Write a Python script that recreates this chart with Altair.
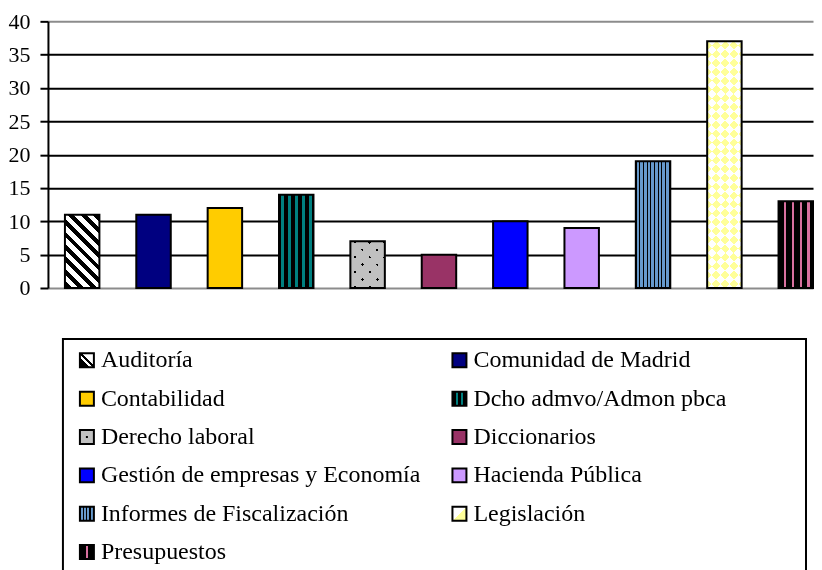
import math
import altair as alt
import pandas as pd

# ---------------- data ----------------
categories = [
    "Auditoría", "Comunidad de Madrid", "Contabilidad", "Dcho admvo/Admon pbca",
    "Derecho laboral", "Diccionarios", "Gestión de empresas y Economía",
    "Hacienda Pública", "Informes de Fiscalización", "Legislación", "Presupuestos",
]
values = [11, 11, 12, 14, 7, 5, 10, 9, 19, 37, 13]
y_ticks = [0, 5, 10, 15, 20, 25, 30, 35, 40]
legend_col = [i % 2 for i in range(len(categories))]
legend_row = [i // 2 for i in range(len(categories))]

df = pd.DataFrame({"cat": categories, "value": values, "col": legend_col, "row": legend_row})

# ---------------- layout / style ----------------
FONT = "Liberation Serif"
PLOT_W, PLOT_H = 766, 267
Y_MAX = 40
N = len(categories)
P_IN, P_OUT, ALIGN = 0.517, 0.119, 1.0
STEP = PLOT_W / (N - P_IN + 2 * P_OUT)
BW = STEP * (1 - P_IN)

LEG_W, LEG_H = 762, 236
LEG_LEFT = 15
LEG_RIGHT = 759
LEG_COLS = [39, 412]
LEG_ROW0, LEG_ROWSTEP = 22.4, 38.4

BLACK, WHITE = "#000000", "#ffffff"


def stripe_stops(L, period, start, width, on, off):
    segs = []
    k = math.floor(-start / period) - 1
    while True:
        a = start + k * period
        if a >= L:
            break
        b = a + width
        a2, b2 = max(a, 0.0), min(b, L)
        if b2 > a2:
            segs.append((a2, b2))
        k += 1
    stops = []
    cur = 0.0
    for a, b in segs:
        if a > cur:
            stops += [(cur, off), (a, off)]
        stops += [(a, on), (b, on)]
        cur = b
    if cur < L:
        stops += [(cur, off), (L, off)]
    return [{"offset": round(s / L, 5), "color": c} for s, c in stops]


def g_vert(W, period, start, width, on, off):
    return {"gradient": "linear", "x1": 0, "y1": 0, "x2": 1, "y2": 0,
            "stops": stripe_stops(W, period, start, width, on, off)}


def g_diag(W, H, kind, period, start, width, on, off):
    r = W / H
    dy = (r + 1) / (r * r + 1)
    dx = r * dy
    L = (W + H) / math.sqrt(2)
    if kind == "\\":
        g = {"x1": 0, "y1": 1, "x2": round(dx, 5), "y2": round(1 - dy, 5)}
    else:
        g = {"x1": 0, "y1": 0, "x2": round(dx, 5), "y2": round(dy, 5)}
    g["gradient"] = "linear"
    g["stops"] = stripe_stops(L, period, start, width, on, off)
    return g


def g_manual(x1, y1, x2, y2, stops):
    return {"gradient": "linear", "x1": x1, "y1": y1, "x2": x2, "y2": y2,
            "stops": [{"offset": o, "color": c} for o, c in stops]}


def bar_height(v):
    return v / Y_MAX * PLOT_H


X = alt.X("cat:N", sort=categories, axis=None,
          scale=alt.Scale(paddingInner=P_IN, paddingOuter=P_OUT, align=ALIGN))
Y = alt.Y("value:Q", title=None,
          scale=alt.Scale(domain=[0, Y_MAX], nice=False, zero=True),
          axis=alt.Axis(values=y_ticks, labelFont=FONT, labelFontSize=22, labelColor="black",
                        labelPadding=10, tickSize=8, tickWidth=2, tickColor="black",
                        domainColor="black", domainWidth=2, grid=True, gridWidth=2,
                        gridOpacity=1, labelFlush=False, labelOverlap=False,
                        gridColor={"condition": {"test": "datum.value === 0 || datum.value === 40",
                                                 "value": "#8c8c8c"},
                                   "value": "black"}))

base = alt.Chart(df)


def bar(cat, **kw):
    return base.transform_filter(alt.datum.cat == cat).mark_bar(**kw).encode(x=X, y=Y)


OUT = dict(stroke="black", strokeWidth=2)
layers = []
hv = dict(zip(categories, values))

# Auditoría: white with black "\" stripes
layers.append(bar("Auditoría", fill=g_diag(BW, bar_height(hv["Auditoría"]), "\\", 8.8, 1.0, 4.2, BLACK, WHITE), **OUT))
layers.append(bar("Comunidad de Madrid", fill="#000080", **OUT))
layers.append(bar("Contabilidad", fill="#FFCC00", **OUT))
layers.append(bar("Dcho admvo/Admon pbca", fill=g_vert(BW, 6.9, 2.2, 3.2, "#008080", BLACK), **OUT))
# Derecho laboral: gray with staggered black dots
hd = bar_height(hv["Derecho laboral"])
layers.append(bar("Derecho laboral", fill=g_diag(BW, hd, "/", 10.5, 3.0, 2.0, BLACK, WHITE)))
layers.append(bar("Derecho laboral", fill=g_diag(BW, hd, "\\", 10.5, 3.0, 2.0, BLACK, WHITE), blend="lighten"))
layers.append(bar("Derecho laboral", fill="#C0C0C0", blend="multiply"))
layers.append(bar("Derecho laboral", fill=WHITE, fillOpacity=0, **OUT))
layers.append(bar("Diccionarios", fill="#993366", **OUT))
layers.append(bar("Gestión de empresas y Economía", fill="#0000FF", **OUT))
layers.append(bar("Hacienda Pública", fill="#CC99FF", **OUT))
layers.append(bar("Informes de Fiscalización", fill=g_vert(BW, 3.7, 0.8, 2.6, "#6699CC", BLACK), **OUT))
# Legislación: yellow / white diamond checker
hl = bar_height(hv["Legislación"])
layers.append(bar("Legislación", fill=g_diag(BW, hl, "/", 12.5, 0.0, 6.25, "#000066", BLACK)))
layers.append(bar("Legislación", fill=g_diag(BW, hl, "\\", 12.5, 0.0, 6.25, "#000066", BLACK), blend="difference"))
layers.append(bar("Legislación", fill=WHITE, blend="difference"))
layers.append(bar("Legislación", fill=WHITE, fillOpacity=0, **OUT))
layers.append(bar("Presupuestos", fill=g_vert(BW, 8.0, 5.0, 2.3, "#D9709F", BLACK), **OUT))

main = alt.layer(*layers).properties(width=PLOT_W, height=PLOT_H)

# ---------------- legend panel ----------------
LX = alt.X("col:Q", axis=None, scale=alt.Scale(domain=[0, 1], range=LEG_COLS))
LY = alt.Y("row:Q", axis=None, scale=alt.Scale(domain=[0, 5], range=[LEG_ROW0, LEG_ROW0 + 5 * LEG_ROWSTEP]))

sym_fill = {
    "Auditoría": g_manual(0, 1, 1, 0, [(0, BLACK), (0.36, BLACK), (0.36, WHITE), (0.46, WHITE),
                                       (0.46, BLACK), (0.58, BLACK), (0.58, WHITE), (1, WHITE)]),
    "Comunidad de Madrid": "#000080",
    "Contabilidad": "#FFCC00",
    "Dcho admvo/Admon pbca": g_manual(0, 0, 1, 0, [(0, BLACK), (0.22, BLACK), (0.22, "#008080"), (0.42, "#008080"),
                                                   (0.42, BLACK), (0.58, BLACK), (0.58, "#008080"), (0.78, "#008080"),
                                                   (0.78, BLACK), (1, BLACK)]),
    "Derecho laboral": {"gradient": "radial", "x1": 0.5, "y1": 0.5, "r1": 0, "x2": 0.5, "y2": 0.5, "r2": 0.5,
                        "stops": [{"offset": 0, "color": BLACK}, {"offset": 0.2, "color": BLACK},
                                  {"offset": 0.2, "color": "#C0C0C0"}, {"offset": 1, "color": "#C0C0C0"}]},
    "Diccionarios": "#993366",
    "Gestión de empresas y Economía": "#0000FF",
    "Hacienda Pública": "#CC99FF",
    "Informes de Fiscalización": g_vert(14, 3.4, 0.6, 2.2, "#6699CC", BLACK),
    "Legislación": g_manual(0, 0, 1, 1, [(0, WHITE), (0.5, WHITE), (0.5, "#FFFF99"), (1, "#FFFF99")]),
    "Presupuestos": g_manual(0, 0, 1, 0, [(0, BLACK), (0.4, BLACK), (0.4, "#D9709F"), (0.6, "#D9709F"),
                                          (0.6, BLACK), (1, BLACK)]),
}

frame = alt.Chart(pd.DataFrame({"k": [0]})).mark_rect(
    fill=WHITE, fillOpacity=0, stroke="black", strokeWidth=2, clip=True
).encode(x=alt.value(LEG_LEFT), x2=alt.value(LEG_RIGHT), y=alt.value(1), y2=alt.value(LEG_H + 20))

leg_layers = [frame]
for c in categories:
    leg_layers.append(
        base.transform_filter(alt.datum.cat == c)
        .mark_square(size=196, filled=True, fill=sym_fill[c], fillOpacity=1, opacity=1,
                     stroke="black", strokeWidth=2)
        .encode(x=LX, y=LY)
    )
leg_layers.append(
    base.mark_text(align="left", baseline="middle", dx=14, font=FONT, fontSize=24, fill="black")
    .encode(x=LX, y=LY, text="cat:N")
)
legend = alt.layer(*leg_layers).properties(width=LEG_W, height=LEG_H)

chart = alt.vconcat(main, legend, spacing=39).properties(
    padding={"left": 0, "top": 2, "right": 0, "bottom": 0}
).configure_view(stroke=None)

chart.save("out.html", embed_options={"renderer": "svg", "actions": False})
